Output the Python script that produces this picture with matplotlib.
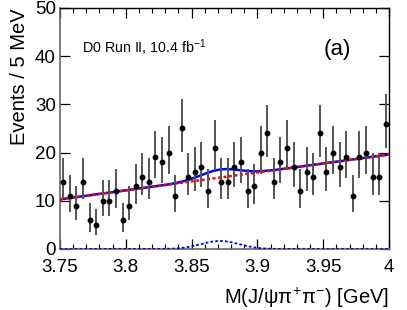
import numpy as np
import matplotlib
matplotlib.use("Agg")
import matplotlib.pyplot as plt
from matplotlib.ticker import MultipleLocator

plt.rcParams['font.family'] = ['Liberation Sans', 'DejaVu Sans']
plt.rcParams['mathtext.fontset'] = 'custom'
plt.rcParams['mathtext.rm'] = 'Liberation Sans'
plt.rcParams['mathtext.it'] = 'Liberation Sans'

# bin centres (5 MeV bins from 3.75 to 4.00 GeV)
bin_centers = np.arange(3.7525, 4.0, 0.005)
counts = [14, 11, 9, 14, 6, 5, 10, 10, 12, 6,
          9, 13, 15, 14, 19, 18, 20, 11, 25, 15,
          16, 17, 12, 21, 14, 14, 17, 18, 12, 13,
          20, 24, 14, 18, 21, 17, 12, 16, 15, 24,
          16, 20, 17, 19, 11, 19, 20, 15, 15, 26]

# fit parameters
bkg_left, bkg_right = 10.3, 19.6
sig_mean, sig_sigma, sig_amp = 3.8716, 0.0145, 1.66

counts = np.array(counts, dtype=float)
# asymmetric Poisson errors (Gehrels approximation)
err_lo = np.sqrt(counts - 0.25)
err_hi = np.sqrt(counts + 0.75) + 1.0

xf = np.linspace(3.75, 4.0, 500)
bkg = bkg_left + (bkg_right - bkg_left) * (xf - 3.75) / 0.25
sig = sig_amp * np.exp(-0.5 * ((xf - sig_mean) / sig_sigma) ** 2)
total = bkg + sig

fig = plt.figure(figsize=(4.07, 3.10), dpi=100)
ax = fig.add_axes([0.1474, 0.1968, 0.8084, 0.7774])

ax.errorbar(bin_centers, counts, yerr=[err_lo, err_hi], fmt='o', color='black',
            ms=3.2, ecolor='#555555', elinewidth=1.4, capsize=0, zorder=5)
ax.plot(xf, total, color='#0000ff', lw=1.8, zorder=3)
ax.plot(xf, bkg, color='#ff0000', lw=1.8, ls=(0, (1.2, 1.0)), zorder=4)
ax.plot(xf, sig, color='#0000ff', lw=1.3, ls=(0, (1.5, 1.2)), zorder=4)

ax.set_xlim(3.75, 4.0)
ax.set_ylim(0, 50)
ax.xaxis.set_minor_locator(MultipleLocator(0.01))
ax.yaxis.set_major_locator(MultipleLocator(10))
ax.set_xticks([3.75, 3.8, 3.85, 3.9, 3.95, 4.0])
ax.set_xticklabels(['3.75', '3.8', '3.85', '3.9', '3.95', '4'])
ax.tick_params(which='both', direction='in', top=True, right=True,
               labelsize=13.5)
ax.tick_params(axis='x', pad=7)
ax.tick_params(axis='y', pad=3)
ax.tick_params(which='major', length=7, width=0.9)
ax.tick_params(which='minor', length=3.5, width=0.8)
for s in ['left', 'bottom']:
    ax.spines[s].set_color('#666666')
    ax.spines[s].set_linewidth(1.2)
for s in ['top', 'right']:
    ax.spines[s].set_color('black')
    ax.spines[s].set_linewidth(1.0)

ax.set_ylabel('Events / 5 MeV', fontsize=14.5, loc='top', labelpad=4)
ax.set_xlabel(r'M(J/$\psi\pi^{+}\pi^{-}$) [GeV]', fontsize=14.5, loc='right',
              labelpad=7)

ax.text(0.067, 0.815, r'D0 Run II, 10.4 fb$^{-1}$', transform=ax.transAxes,
        fontsize=10.3, color='black')
ax.text(0.80, 0.805, '(a)', transform=ax.transAxes, fontsize=16, color='black')

fig.savefig('out.png', dpi=100)
